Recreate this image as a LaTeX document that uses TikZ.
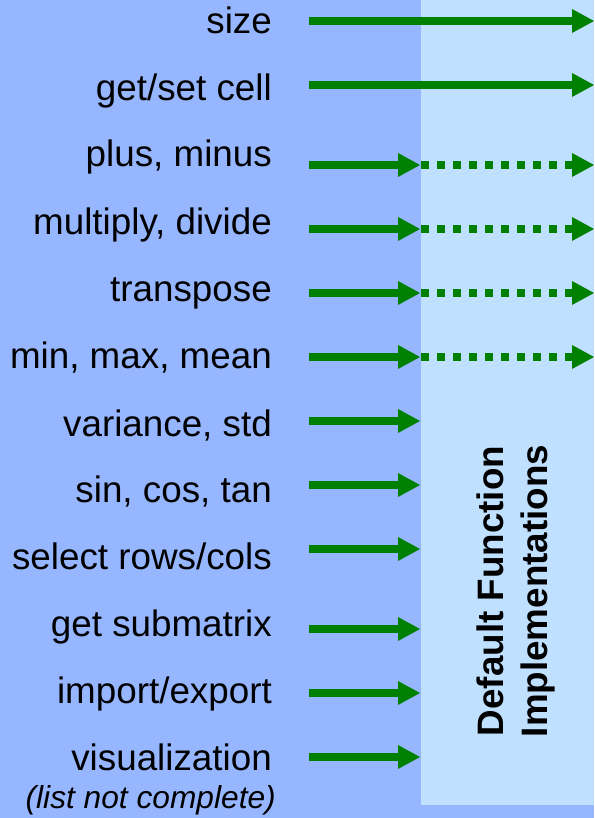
\documentclass[tikz,border=0pt]{standalone}
\usepackage{fontspec}
\setmainfont{Liberation Sans}
\usetikzlibrary{arrows.meta}
\definecolor{bgblue}{RGB}{150,182,255}
\definecolor{panelblue}{RGB}{192,224,255}
\definecolor{arrowgreen}{RGB}{0,128,0}
\begin{document}
\begin{tikzpicture}[x=1pt,y=-1pt,
  lbl/.style={anchor=base east, inner sep=0pt, font=\fontsize{36.8}{44}\selectfont},
  note/.style={anchor=base east, inner sep=0pt, font=\fontsize{31.7}{38}\selectfont\itshape},
  arr/.style={draw=arrowgreen, line width=8pt, -{Triangle[length=22pt,width=24pt,line width=0pt]}},
  dotarr/.style={arr, dash pattern=on 8pt off 8pt}]
\useasboundingbox (0,0) rectangle (594,818);
\fill[bgblue] (0,0) rectangle (594,818);
\fill[panelblue] (421,0) rectangle (594,805);

% labels
\node[lbl] (l1) at (272,34) {size};
\node[lbl] (l2) at (272,101) {get/set cell};
\node[lbl] (l3) at (272,167) {plus, minus};
\node[lbl] (l4) at (272,234) {multiply, divide};
\node[lbl] (l5) at (272,301) {transpose};
\node[lbl] (l6) at (272,368) {min, max, mean};
\node[lbl] (l7) at (272,436) {variance, std};
\node[lbl] (l8) at (272,502) {sin, cos, tan};
\node[lbl] (l9) at (272,569) {select rows/cols};
\node[lbl] (l10) at (272,636) {get submatrix};
\node[lbl] (l11) at (272,703) {import/export};
\node[lbl] (l12) at (272,770) {visualization};
\node[note] (l13) at (276,808) {(list not complete)};

\node[rotate=90, align=center, inner sep=0pt, font=\fontsize{36.8}{44}\selectfont\bfseries] (panel) at (515.5,591) {Default Function\\Implementations};

% arrow end points
\foreach \i/\y in {1/21,2/85,3/165,4/229,5/293,6/357,7/421,8/485,9/549,10/629,11/693,12/757}{
  \coordinate (s\i) at (309,\y);
  \coordinate (m\i) at (420,\y);
  \coordinate (d\i) at (421,\y);
  \coordinate (e\i) at (594,\y);
}

% long solid arrows
\draw[arr] (s1) -- (e1);
\draw[arr] (s2) -- (e2);
% short arrows
\foreach \i in {3,...,12}{\draw[arr] (s\i) -- (m\i);}
% dotted continuations
\foreach \i in {3,...,6}{\draw[dotarr] (d\i) -- (e\i);}
\end{tikzpicture}
\end{document}
